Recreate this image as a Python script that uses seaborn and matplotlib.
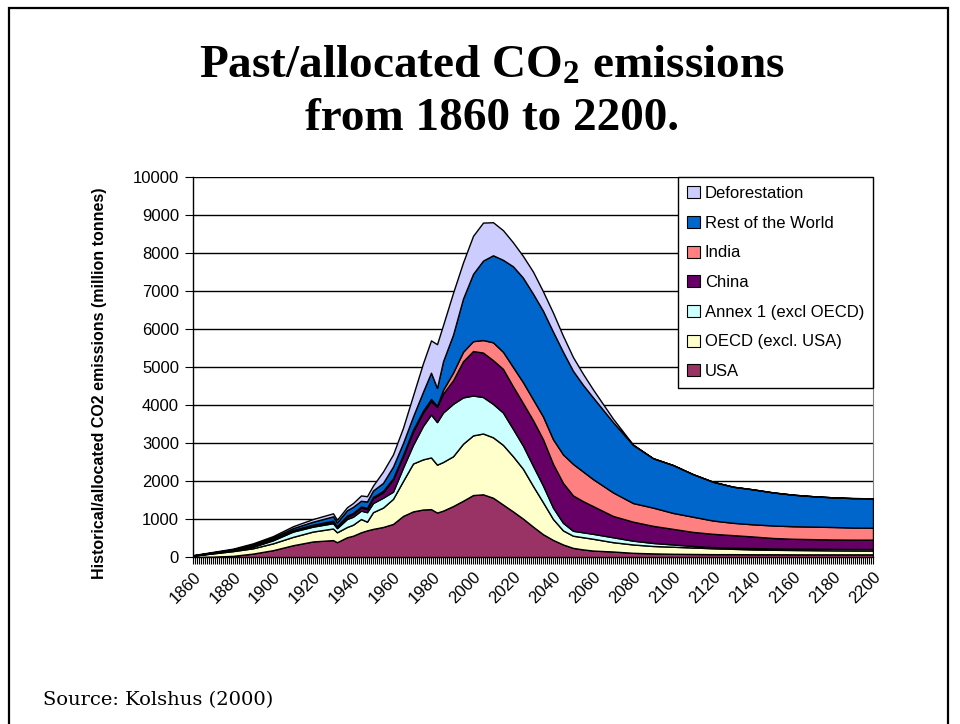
import matplotlib
matplotlib.use("Agg")
import matplotlib.pyplot as plt
import matplotlib.patches as mpatches
from matplotlib.ticker import MultipleLocator
import seaborn as sns

# years (uneven steps where the curves bend)
years = [1860, 1870, 1880, 1890, 1900, 1910, 1920, 1930, 1932, 1937, 1940, 1944, 1947, 1950,
         1955, 1960, 1965, 1970, 1975, 1979, 1982, 1985, 1990, 1995,
         2000, 2005, 2010, 2015, 2020, 2025, 2030, 2035, 2040, 2045, 2050, 2055, 2060,
         2070, 2080, 2090, 2100, 2110, 2120, 2130, 2140, 2150, 2160, 2170, 2180, 2190, 2200]

# million tonnes per region (stacked bottom -> top)
usa = [5, 10, 30, 90, 180, 310, 410, 445, 390, 520, 560, 650, 700, 740,
       790, 870, 1080, 1200, 1250, 1260, 1170, 1220, 1340, 1480,
       1630, 1650, 1560, 1380, 1200, 1010, 800, 600, 450, 330, 240, 200, 170,
       145, 110, 95, 85, 80, 75, 75, 72, 72, 70, 70, 70, 70, 70]
oecd = [30, 85, 125, 140, 180, 220, 260, 305, 260, 270, 290, 350, 230, 440,
        510, 660, 920, 1260, 1320, 1360, 1260, 1280, 1310, 1500,
        1570, 1600, 1590, 1570, 1450, 1310, 1070, 840, 550, 370, 320, 320, 310,
        245, 220, 195, 185, 170, 155, 140, 128, 118, 115, 110, 105, 102, 100]
annex1 = [2, 10, 20, 40, 80, 140, 130, 140, 110, 210, 210, 220, 250, 240,
          260, 190, 350, 490, 880, 1130, 1120, 1300, 1380, 1220,
          1050, 960, 880, 850, 720, 610, 530, 440, 300, 200, 130, 130, 130,
          130, 100, 80, 60, 40, 30, 30, 35, 35, 35, 38, 40, 40, 40]
china = [2, 5, 8, 13, 20, 25, 30, 40, 35, 60, 70, 80, 80, 130,
         140, 320, 300, 350, 350, 350, 400, 500, 620, 950,
         1170, 1170, 1150, 1150, 1120, 1120, 1200, 1220, 1150, 1050, 930, 820, 730,
         560, 500, 450, 410, 370, 350, 330, 305, 275, 260, 252, 245, 245, 247]
india = [1, 3, 5, 8, 10, 15, 20, 25, 20, 30, 30, 30, 30, 30,
         40, 30, 40, 50, 50, 60, 30, 100, 200, 250,
         260, 330, 470, 450, 510, 550, 550, 600, 650, 750, 830, 780, 710,
         620, 490, 480, 420, 400, 350, 325, 320, 330, 330, 330, 330, 318, 313]
rest = [3, 9, 15, 34, 40, 50, 80, 115, 95, 140, 160, 150, 170, 170,
        210, 310, 310, 350, 500, 690, 470, 750, 1000, 1400,
        1770, 2090, 2290, 2420, 2650, 2750, 2780, 2780, 2830, 2700, 2450, 2280, 2150,
        1850, 1530, 1300, 1260, 1120, 1020, 950, 920, 870, 830, 800, 780, 775, 775]
deforest = [7, 13, 17, 35, 40, 50, 70, 80, 70, 80, 100, 140, 140, 130,
            300, 320, 400, 550, 750, 850, 1150, 950, 1100, 950,
            1000, 1000, 870, 780, 630, 570, 580, 510, 500, 420, 360, 290, 210,
            90, 10, 0, 0, 0, 0, 0, 0, 0, 0, 0, 0, 0, 0]

labels = ['USA', 'OECD (excl. USA)', 'Annex 1 (excl OECD)', 'China', 'India',
          'Rest of the World', 'Deforestation']
colors = ['#993366', '#FFFFCC', '#CCFFFF', '#660066', '#FF8080', '#0066CC', '#CCCCFF']
tick_years = list(range(1860, 2201, 20))

sns.set_style("white")
plt.rcParams['font.family'] = ['Liberation Sans', 'DejaVu Sans']
plt.rcParams['mathtext.default'] = 'regular'
plt.rcParams['text.color'] = 'black'
plt.rcParams['axes.labelcolor'] = 'black'
plt.rcParams['xtick.color'] = 'black'
plt.rcParams['ytick.color'] = 'black'

fig = plt.figure(figsize=(9.6, 7.24), dpi=100)
ax = fig.add_axes([193 / 960, 1 - 557 / 724, 680 / 960, 380 / 724])

ax.stackplot(years, usa, oecd, annex1, china, india, rest, deforest,
             colors=colors, edgecolor='black', linewidth=1.0, zorder=3)

ax.set_xlim(1860, 2200)
ax.set_ylim(0, 10000)
ax.yaxis.set_major_locator(MultipleLocator(1000))
ax.grid(axis='y', color='black', linewidth=1.0, zorder=0)
ax.set_axisbelow(True)

ax.set_xticks(tick_years)
ax.set_xticklabels([str(y) for y in tick_years], rotation=45, ha='right',
                   rotation_mode='anchor', fontsize=12)
ax.xaxis.set_minor_locator(MultipleLocator(1))
ax.tick_params(axis='x', which='both', direction='out', length=5, width=0.8,
               color='black', bottom=True, pad=4)
ax.tick_params(axis='y', direction='out', length=6, width=0.8, color='black',
               left=True, labelsize=12, pad=4)

for side in ['left', 'bottom']:
    ax.spines[side].set_color('black')
    ax.spines[side].set_linewidth(1.0)
ax.spines['top'].set_visible(False)
ax.spines['right'].set_color('#808080')

ax.set_ylabel('Historical/allocated CO2 emissions (million tonnes)',
              fontsize=11.5, fontweight='bold')
ax.yaxis.set_label_coords(-0.1265, 0.458)

handles = [mpatches.Patch(facecolor=c, edgecolor='black', linewidth=0.8, label=l)
           for c, l in zip(colors, labels)][::-1]
leg = ax.legend(handles=handles, loc='upper left',
                bbox_to_anchor=(678 / 960, 1 - 177 / 724), bbox_transform=fig.transFigure,
                fontsize=12, frameon=True, fancybox=False, framealpha=1,
                edgecolor='black', borderaxespad=0, handlelength=0.75,
                handleheight=0.75, handletextpad=0.3, labelspacing=0.88,
                borderpad=0.55)
leg.get_frame().set_linewidth(1.0)
leg.set_zorder(10)

fig.text(492 / 960, 1 - 78 / 724, 'Past/allocated CO$_2$ emissions', ha='center',
         va='baseline', fontsize=34, fontweight='bold', family='Liberation Serif')
fig.text(492 / 960, 1 - 130 / 724, 'from 1860 to 2200.', ha='center',
         va='baseline', fontsize=34, fontweight='bold', family='Liberation Serif')

fig.text(43 / 960, 1 - 700 / 724, 'Source: Kolshus (2000)', ha='left', va='center',
         fontsize=14, family='DejaVu Serif')

frame = mpatches.Rectangle((9 / 960, -0.02), 939 / 960, 1.02 - 8 / 724,
                           transform=fig.transFigure, fill=False,
                           edgecolor='black', linewidth=1.6)
fig.patches.append(frame)

fig.savefig('out.png', dpi=100)
